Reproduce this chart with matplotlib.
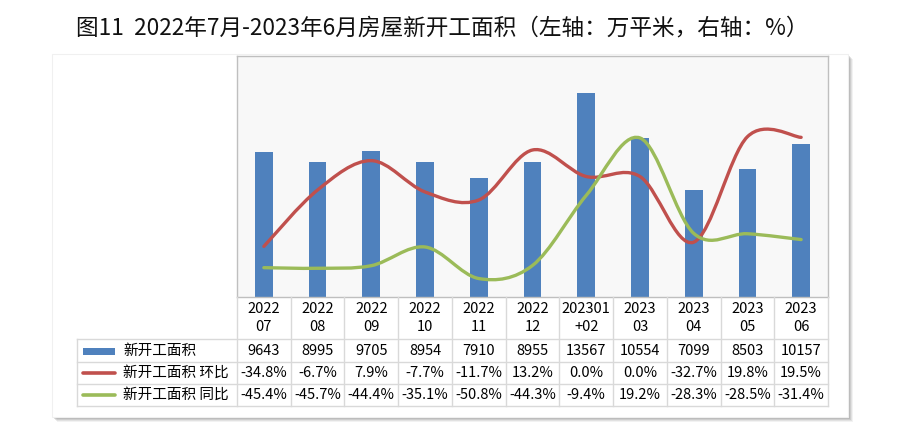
import matplotlib
matplotlib.use("Agg")
import matplotlib.pyplot as plt
from matplotlib.path import Path
from matplotlib.patches import PathPatch, Rectangle
from matplotlib.lines import Line2D
import numpy as np

plt.rcParams['font.family'] = ['Noto Sans CJK SC', 'DejaVu Sans']

months = ["2022\n07", "2022\n08", "2022\n09", "2022\n10", "2022\n11", "2022\n12",
          "202301\n+02", "2023\n03", "2023\n04", "2023\n05", "2023\n06"]
area = [9643, 8995, 9705, 8954, 7910, 8955, 13567, 10554, 7099, 8503, 10157]
mom = [-34.8, -6.7, 7.9, -7.7, -11.7, 13.2, 0.0, 0.0, -32.7, 19.8, 19.5]
yoy = [-45.4, -45.7, -44.4, -35.1, -50.8, -44.3, -9.4, 19.2, -28.3, -28.5, -31.4]
series_names = ["新开工面积", "新开工面积 环比", "新开工面积 同比"]
title = "图11  2022年7月-2023年6月房屋新开工面积（左轴：万平米，右轴：%）"

BLUE = "#4F81BD"
RED = "#C0504D"
GREEN = "#9BBB59"
GRID = "#D9D9D9"

W, H = 900, 436
fig = plt.figure(figsize=(9, 4.36), dpi=100)


def box(x0, y0, x1, y1):
    # pixel box (top-left origin) -> figure fraction rect
    return [x0 / W, 1 - y1 / H, (x1 - x0) / W, (y1 - y0) / H]


# chart area with drop shadow
for off, a in [(5, 0.10), (4, 0.15), (3, 0.2), (2, 0.25)]:
    fig.patches.append(Rectangle(((52 + off) / W, 1 - (417 + off) / H),
                                 (848 - 52) / W, (417 - 54) / H,
                                 transform=fig.transFigure, facecolor="#808080",
                                 alpha=a, edgecolor="none", zorder=-3))
fig.patches.append(Rectangle((52 / W, 1 - 417 / H), (848 - 52) / W, (417 - 54) / H,
                             transform=fig.transFigure, facecolor="white",
                             edgecolor="#F0F0F0", linewidth=0.8, zorder=-2))

fig.text(442 / W, 1 - 28 / H, title, ha="center", va="center", fontsize=16.3,
         color="#111111", fontweight="medium")

n = len(area)
x = np.arange(n)

ax = fig.add_axes(box(237, 56, 828, 297))
ax.set_facecolor("#F8F8F8")
ax.bar(x, area, width=0.33, color=BLUE, zorder=2)
ax.set_xlim(-0.5, n - 0.5)
ax.set_ylim(0, 16000)
ax.set_xticks([])
ax.set_yticks([])
for s in ax.spines.values():
    s.set_color("#BFBFBF")
    s.set_linewidth(1)

ax2 = ax.twinx()
ax2.set_ylim(-60, 60)
ax2.set_yticks([])
ax2.set_xlim(-0.5, n - 0.5)
for s in ax2.spines.values():
    s.set_visible(False)


def smooth_path(xs, ys):
    # Catmull-Rom style cubic Bezier through the data points
    pts = np.column_stack([xs, ys]).astype(float)
    verts = [pts[0]]
    codes = [Path.MOVETO]
    for i in range(len(pts) - 1):
        p0 = pts[i - 1] if i > 0 else pts[i]
        p1 = pts[i]
        p2 = pts[i + 1]
        p3 = pts[i + 2] if i + 2 < len(pts) else pts[i + 1]
        c1 = p1 + (p2 - p0) / 6
        c2 = p2 - (p3 - p1) / 6
        verts += [c1, c2, p2]
        codes += [Path.CURVE4] * 3
    return Path(verts, codes)


for vals, col in [(mom, RED), (yoy, GREEN)]:
    ax2.add_patch(PathPatch(smooth_path(x, vals), facecolor="none", edgecolor=col,
                            linewidth=2.4, capstyle="round", zorder=3))

# data table below the plot
col_w = (828 - 237) / n
left_w = (237 - 77) / col_w
tab = fig.add_axes(box(77, 297, 828, 406))
tab.set_xlim(-0.5 - left_w, n - 0.5)
tab.set_ylim(109, 0)
tab.axis("off")
rows = [0, 42, 65, 87, 109]
xl = -0.5 - left_w
lk = dict(color=GRID, linewidth=1, clip_on=False)
for r in rows[1:]:
    tab.plot([xl, n - 0.5], [r, r], **lk)
for i in range(n + 1):
    tab.plot([i - 0.5, i - 0.5], [0, 109], **lk)
tab.plot([xl, xl], [42, 109], **lk)

fs = 10.5
for i, m in enumerate(months):
    tab.text(i, 21, m, ha="center", va="center", fontsize=fs, linespacing=1.35)
    tab.text(i, 53.5, f"{area[i]}", ha="center", va="center", fontsize=fs)
    tab.text(i, 76, f"{mom[i]:.1f}%", ha="center", va="center", fontsize=fs)
    tab.text(i, 98, f"{yoy[i]:.1f}%", ha="center", va="center", fontsize=fs)

# legend keys in the left column
k0 = xl + 6 / col_w
k1 = xl + 38 / col_w
tab.add_patch(Rectangle((k0, 50.5), k1 - k0, 7, facecolor=BLUE, edgecolor="none"))
tab.add_line(Line2D([k0, k1], [76, 76], color=RED, linewidth=2.6, solid_capstyle="round"))
tab.add_line(Line2D([k0, k1], [98, 98], color=GREEN, linewidth=2.6, solid_capstyle="round"))
tx = xl + 46 / col_w
for name, yy in zip(series_names, [53.5, 76, 98]):
    tab.text(tx, yy, name, ha="left", va="center", fontsize=10.5)

fig.savefig("out.png", dpi=100)
